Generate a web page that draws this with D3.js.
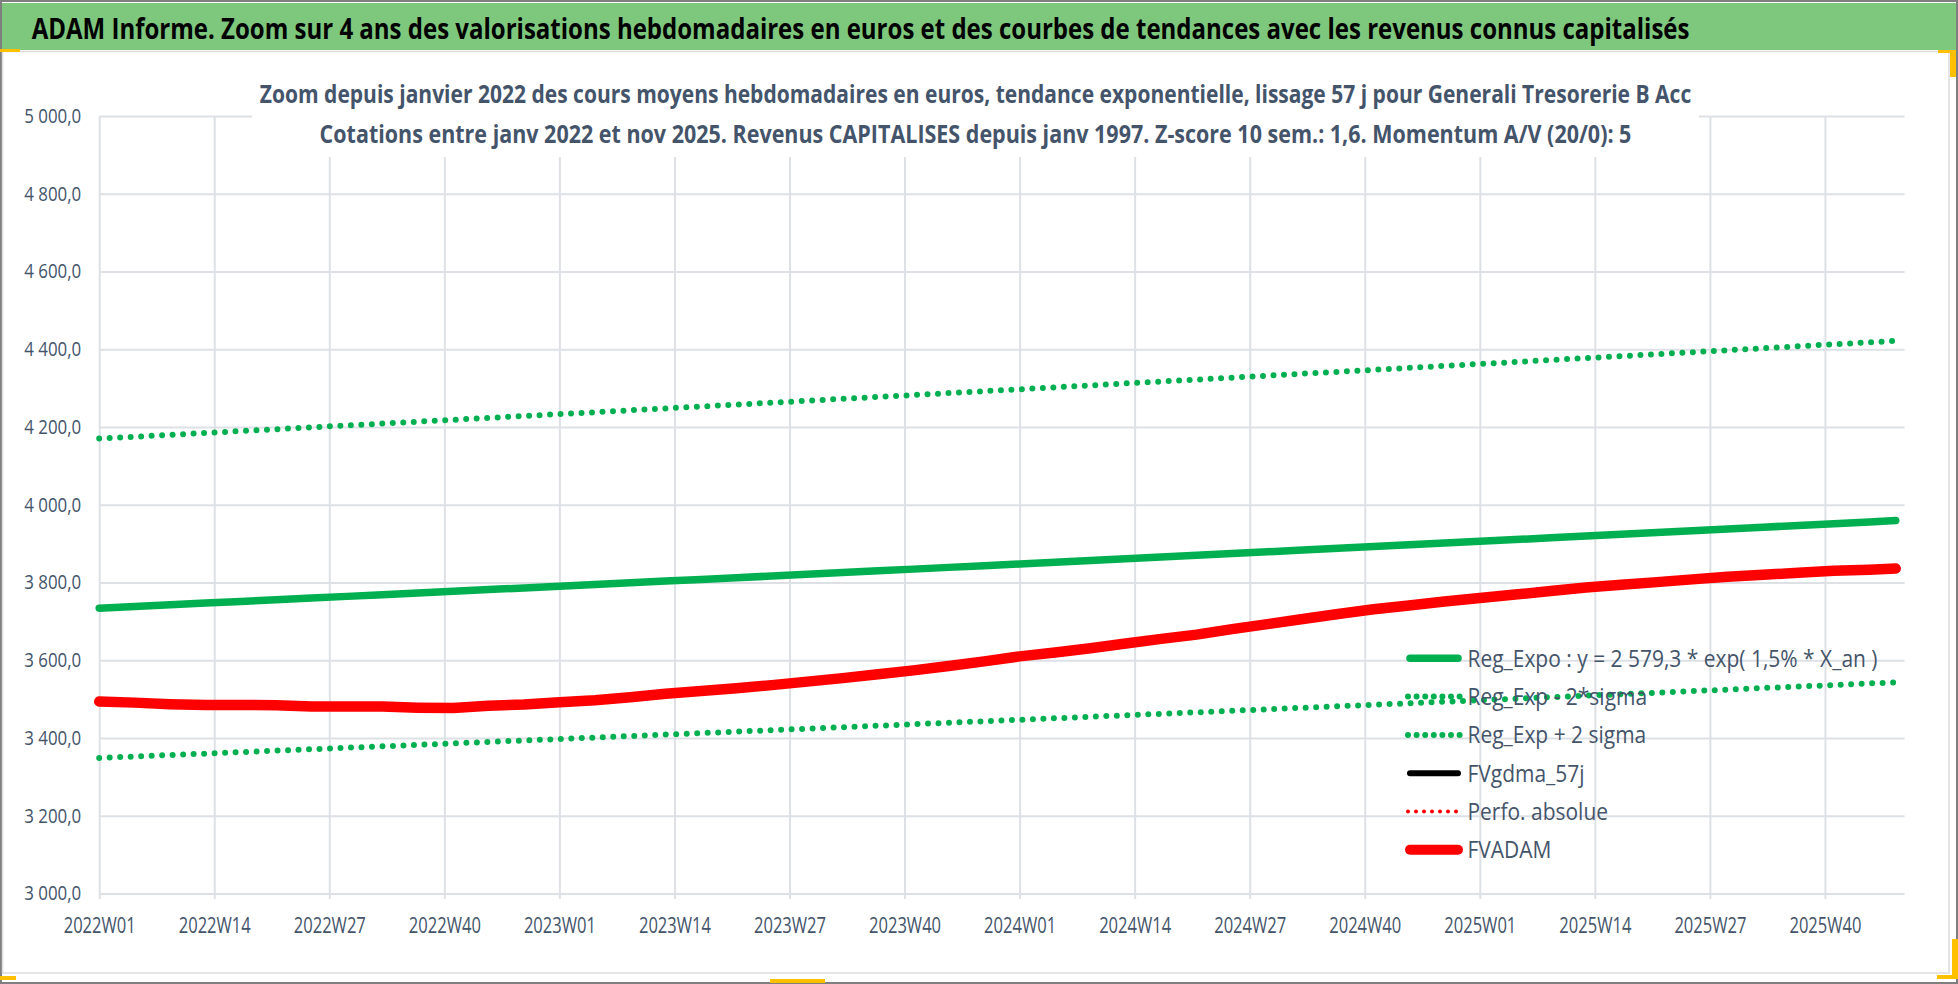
<!DOCTYPE html>
<html>
<head>
<meta charset="utf-8">
<script src="https://cdn.jsdelivr.net/npm/d3@7"></script>
<style>
  body { margin: 0; background: #fff; }
  svg { display: block; }
  text { font-family: "Open Sans", "Liberation Sans", sans-serif; }
</style>
</head>
<body>
<svg id="chart" width="1958" height="984"></svg>
<script>
// weekly samples (every 4 weeks)
const sampleWeeks = [
  "2022W01","2022W05","2022W09","2022W13","2022W17","2022W21","2022W25","2022W29","2022W33","2022W37","2022W41","2022W45","2022W49",
  "2023W01","2023W05","2023W09","2023W13","2023W17","2023W21","2023W25","2023W29","2023W33","2023W37","2023W41","2023W45","2023W49",
  "2024W01","2024W05","2024W09","2024W13","2024W17","2024W21","2024W25","2024W29","2024W33","2024W37","2024W41","2024W45","2024W49",
  "2025W01","2025W05","2025W09","2025W13","2025W17","2025W21","2025W25","2025W29","2025W33","2025W37","2025W41","2025W45","2025W48"
];

const regExpo = [
  3734.0, 3738.3, 3742.6, 3747.0, 3751.3, 3755.6, 3759.9, 3764.3, 3768.6, 3773.0, 3777.3, 3781.7, 3786.1,
  3790.4, 3794.8, 3799.2, 3803.6, 3808.0, 3812.4, 3816.7, 3821.2, 3825.6, 3830.0, 3834.4, 3838.9, 3843.3,
  3847.7, 3852.2, 3856.6, 3861.1, 3865.6, 3870.0, 3874.5, 3879.0, 3883.5, 3887.9, 3892.4, 3896.9, 3901.4,
  3905.9, 3910.4, 3915.0, 3919.5, 3924.0, 3928.5, 3933.1, 3937.6, 3942.2, 3946.7, 3951.3, 3955.8, 3959.2
];

const regMinus = [
  3348.8, 3352.5, 3356.2, 3359.9, 3363.7, 3367.4, 3371.1, 3374.9, 3378.6, 3382.4, 3386.1, 3389.9, 3393.7,
  3397.4, 3401.2, 3404.9, 3408.8, 3412.6, 3416.4, 3420.1, 3424.0, 3427.8, 3431.6, 3435.4, 3439.3, 3443.0,
  3446.9, 3450.7, 3454.6, 3458.4, 3462.3, 3466.1, 3470.0, 3473.9, 3477.8, 3481.6, 3485.5, 3489.4, 3493.2,
  3497.2, 3501.0, 3505.0, 3508.8, 3512.8, 3516.6, 3520.6, 3524.4, 3528.5, 3532.3, 3536.3, 3540.2, 3543.1
];

const regPlus = [
  4170.1, 4174.9, 4179.7, 4184.6, 4189.5, 4194.3, 4199.1, 4204.0, 4208.8, 4213.7, 4218.5, 4223.4, 4228.3,
  4233.1, 4238.0, 4242.9, 4247.9, 4252.8, 4257.7, 4262.5, 4267.5, 4272.4, 4277.3, 4282.2, 4287.3, 4292.2,
  4297.1, 4302.1, 4307.0, 4312.1, 4317.1, 4322.0, 4327.0, 4332.1, 4337.1, 4342.0, 4347.0, 4352.0, 4357.1,
  4362.1, 4367.1, 4372.3, 4377.3, 4382.3, 4387.3, 4392.5, 4397.5, 4402.6, 4407.7, 4412.8, 4417.7, 4421.6
];

const fvgdma = [
  3494, 3491, 3487, 3485, 3485, 3484, 3481, 3481, 3481, 3478, 3477, 3483, 3486,
  3492, 3497, 3505, 3514, 3521, 3528, 3536, 3545, 3554, 3564, 3574, 3585, 3597,
  3610, 3620, 3631, 3643, 3655, 3666, 3680, 3693, 3706, 3719, 3731, 3741, 3751,
  3760, 3769, 3778, 3787, 3794, 3801, 3808, 3815, 3820, 3825, 3829, 3831, 3833
];

const fvadam = [
  3494, 3491, 3487, 3485, 3485, 3484, 3481, 3481, 3481, 3478, 3477, 3483, 3486,
  3492, 3497, 3505, 3514, 3521, 3528, 3536, 3545, 3554, 3564, 3574, 3585, 3597,
  3610, 3620, 3631, 3643, 3655, 3666, 3680, 3693, 3706, 3719, 3731, 3741, 3751,
  3760, 3769, 3778, 3787, 3794, 3801, 3808, 3815, 3820, 3825, 3830, 3833, 3836
];

const xTickLabels = [
  "2022W01","2022W14","2022W27","2022W40","2023W01","2023W14","2023W27","2023W40",
  "2024W01","2024W14","2024W27","2024W40","2025W01","2025W14","2025W27","2025W40"
];
const yTicks = [3000, 3200, 3400, 3600, 3800, 4000, 4200, 4400, 4600, 4800, 5000];

const legendLabels = [
  "Reg_Expo : y = 2 579,3 * exp( 1,5% *  X_an )",
  "Reg_Exp - 2*sigma",
  "Reg_Exp + 2 sigma",
  "FVgdma_57j",
  "Perfo. absolue",
  "FVADAM"
];

const titleText = "ADAM Informe. Zoom sur 4 ans des valorisations hebdomadaires en euros et des courbes de tendances avec les revenus connus capitalisés";
const subtitleLines = [
  "Zoom depuis janvier 2022 des cours moyens hebdomadaires en euros, tendance exponentielle, lissage 57 j pour Generali Tresorerie B Acc",
  "Cotations entre janv 2022 et nov 2025. Revenus CAPITALISES depuis janv 1997. Z-score 10 sem.: 1,6. Momentum A/V (20/0): 5"
];

const green = "#00B050", red = "#FF0000", slate = "#44546A", grid = "#DDE1E6";

const weekIndex = w => (+w.slice(0, 4) - 2022) * 52 + (+w.slice(5)) - 1;

const svg = d3.select("#chart");
const x = d3.scaleLinear().domain([0, 204]).range([99.2, 1904.6]);
const y = d3.scaleLinear().domain([3000, 5000]).range([893.5, 116]);
const fr = d3.formatLocale({decimal: ",", thousands: "\u00a0", grouping: [3]});
const fmt = fr.format(",.1f");

// squeeze a text horizontally (the source chart uses a narrow font)
function squeeze(sel, k) {
  sel.each(function() {
    const len = this.getComputedTextLength();
    d3.select(this).attr("textLength", len * k).attr("lengthAdjust", "spacingAndGlyphs");
  });
}

// text squeezed by a transform, left edge or centre at x0, to a given width
function wideText(parent, str, x0, y0, width, anchor) {
  const g = parent.append("g");
  const t = g.append("text").attr("text-anchor", anchor).text(str);
  return {g, t, fit() {
    const k = width / t.node().getComputedTextLength();
    g.attr("transform", `translate(${x0},${y0}) scale(${k},1)`);
  }};
}

// frame and title bar
svg.append("rect")
  .attr("x", 1).attr("y", 1).attr("width", 1956).attr("height", 982)
  .attr("fill", "#fff").attr("stroke", "#7f7f7f").attr("stroke-width", 2);
svg.append("rect")
  .attr("x", 2).attr("y", 3).attr("width", 1954).attr("height", 47)
  .attr("fill", "#7ec87e");
svg.append("rect")
  .attr("x", 2.5).attr("y", 51.5).attr("width", 1946.5).attr("height", 921.5)
  .attr("fill", "none").attr("stroke", "#dcdcdc").attr("stroke-width", 1.5);

const title = wideText(svg, titleText, 31.7, 39.3, 1658, "start");
title.t.attr("font-size", 28).attr("font-weight", "bold").attr("fill", "#000");
title.fit();

// axes with gridlines
const gy = svg.append("g")
  .attr("transform", `translate(${x(0)},0)`)
  .call(d3.axisLeft(y).tickValues(yTicks).tickFormat(fmt)
    .tickSize(-(x(204) - x(0))).tickPadding(18));
gy.select(".domain").remove();
gy.selectAll(".tick line").attr("stroke", grid).attr("stroke-width", 2);
const yLabels = gy.selectAll(".tick text")
  .attr("font-size", 19.5).attr("fill", slate).attr("font-family", null);
const kY = 57 / yLabels.nodes()[yLabels.size() - 1].getComputedTextLength();
squeeze(yLabels, kY);

const gx = svg.append("g")
  .attr("transform", `translate(0,899)`)
  .call(d3.axisBottom(x).tickValues(xTickLabels.map(weekIndex))
    .tickFormat((d, i) => xTickLabels[i])
    .tickSize(-(899 - y(5000))).tickPadding(18));
gx.select(".domain").remove();
gx.selectAll(".tick line").attr("stroke", grid).attr("stroke-width", 2);
const xLabels = gx.selectAll(".tick text")
  .attr("font-size", 22).attr("fill", slate).attr("font-family", null);
const kX = 72 / xLabels.nodes()[xLabels.size() - 1].getComputedTextLength();
squeeze(xLabels, kX);

// chart title box (hides gridlines behind it)
svg.append("rect")
  .attr("x", 252).attr("y", 56).attr("width", 1447).attr("height", 101)
  .attr("fill", "#fff");
const subW = [1432, 1312];
subtitleLines.forEach((s, i) => {
  const st = wideText(svg, s, 975.5, 103.3 + i * 40, subW[i], "middle");
  st.t.attr("font-size", 25.5).attr("font-weight", "bold").attr("fill", slate);
  st.fit();
});

// series
const pts = sampleWeeks.map(weekIndex);
const line = d3.line().x((d, i) => x(pts[i])).y(d => y(d));

const plot = svg.append("g").attr("fill", "none")
  .attr("stroke-linecap", "round").attr("stroke-linejoin", "round");

plot.append("path").datum(regMinus).attr("d", line)
  .attr("stroke", green).attr("stroke-width", 6).attr("stroke-dasharray", "0 10.5");
plot.append("path").datum(regPlus).attr("d", line)
  .attr("stroke", green).attr("stroke-width", 6).attr("stroke-dasharray", "0 10.5");
plot.append("path").datum(regExpo).attr("d", line)
  .attr("stroke", green).attr("stroke-width", 7.5);
plot.append("path").datum(fvgdma).attr("d", line)
  .attr("stroke", "#000").attr("stroke-width", 5.5);
plot.append("path").datum(fvadam).attr("d", line)
  .attr("stroke", red).attr("stroke-width", 10.5);

// legend
const legendStyle = [
  {color: green, w: 7.5},
  {color: green, w: 6, dash: "0 8.6"},
  {color: green, w: 6, dash: "0 8.6"},
  {color: "#000", w: 6},
  {color: red, w: 4, dash: "0 8"},
  {color: red, w: 10}
];
const legend = svg.append("g");
const rows = legend.selectAll("g").data(legendLabels).join("g")
  .attr("transform", (d, i) => `translate(0,${658.3 + i * 38.3})`);
rows.append("line")
  .attr("x1", (d, i) => legendStyle[i].dash ? 1408 : 1410)
  .attr("x2", (d, i) => legendStyle[i].dash ? 1460 : 1458)
  .attr("stroke", (d, i) => legendStyle[i].color)
  .attr("stroke-width", (d, i) => legendStyle[i].w)
  .attr("stroke-dasharray", (d, i) => legendStyle[i].dash || null)
  .attr("stroke-linecap", "round");
const legTexts = rows.append("text")
  .attr("x", 1467.5).attr("y", 8.3)
  .attr("font-size", 23).attr("fill", slate)
  .text(d => d);
const kL = 410 / legTexts.nodes()[0].getComputedTextLength();
squeeze(legTexts, kL);

// selection handles of the source screenshot
const handles = [
  [0, 49, 20, 3], [1938, 50, 18, 3], [1950, 52, 6, 25],
  [0, 976, 16, 4], [770, 979, 55, 4], [1952, 939, 6, 40], [1937, 975, 21, 4]
];
svg.append("g").selectAll("rect").data(handles).join("rect")
  .attr("x", d => d[0]).attr("y", d => d[1])
  .attr("width", d => d[2]).attr("height", d => d[3])
  .attr("fill", "#FFC000");
</script>
</body>
</html>
